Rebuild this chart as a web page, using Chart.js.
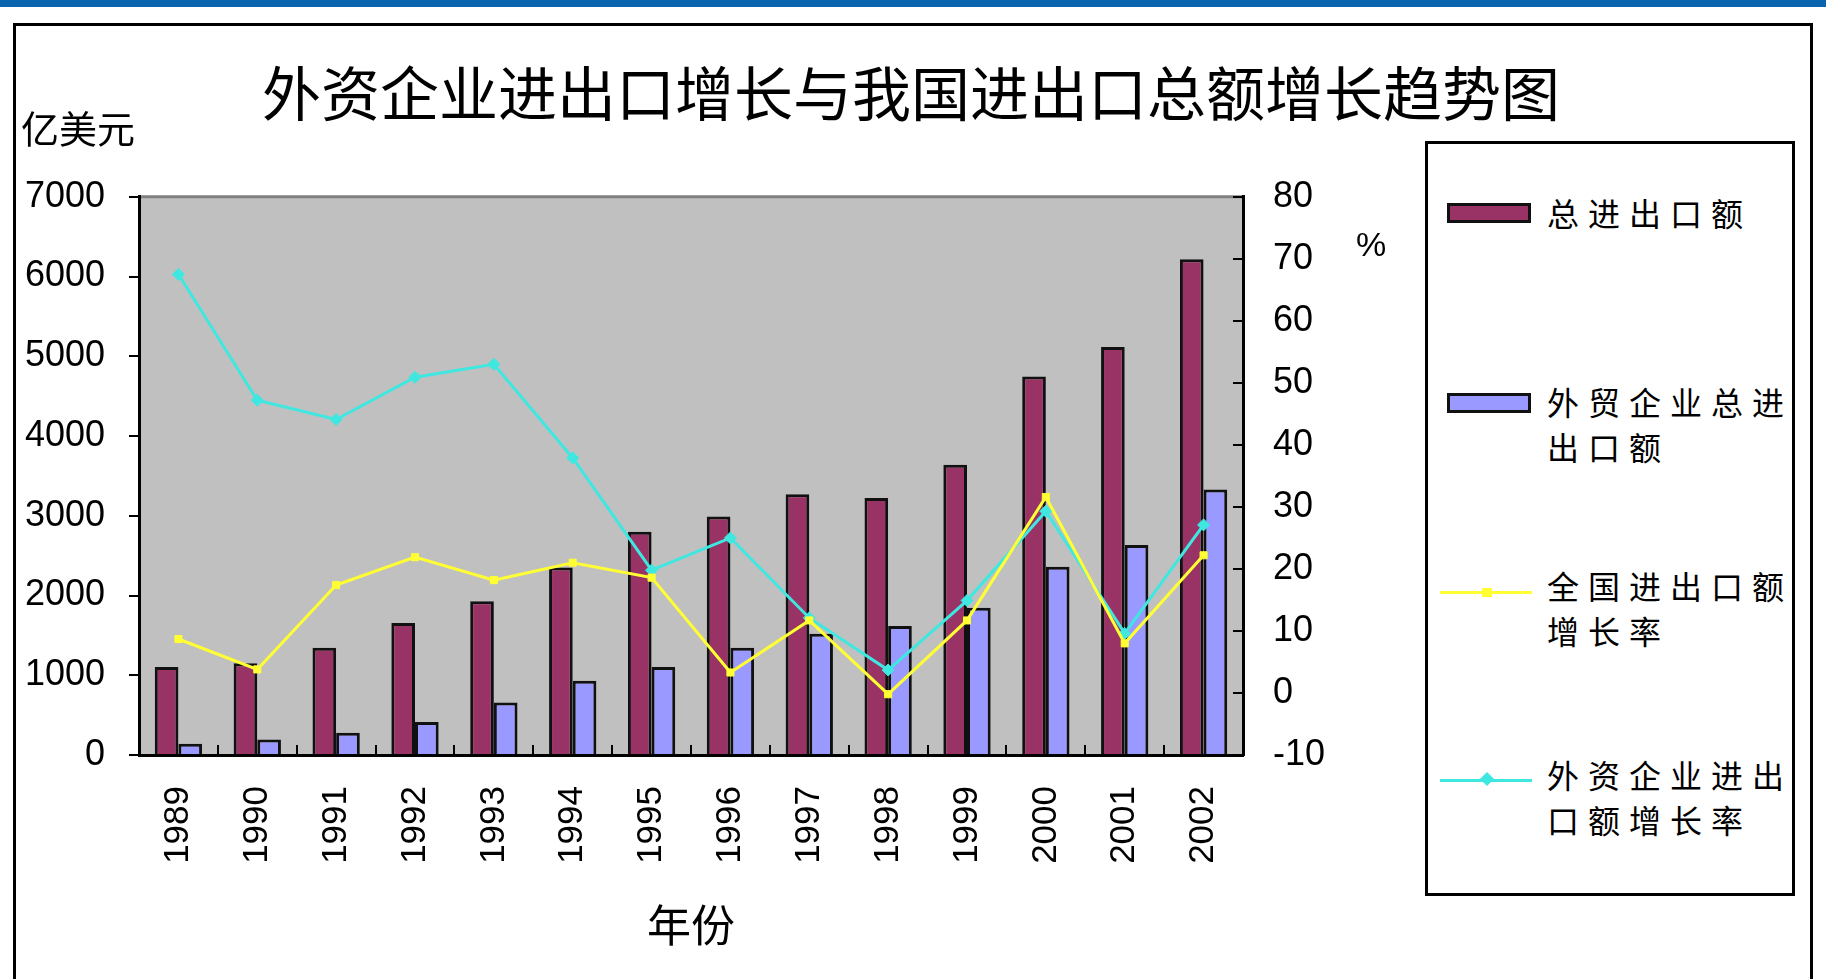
<!DOCTYPE html>
<html>
<head>
<meta charset="utf-8">
<script src="https://cdn.jsdelivr.net/npm/chart.js@4"></script>
<style>
    html, body { margin: 0; padding: 0; background: #fff; }
    body { width: 1826px; height: 979px; position: relative; overflow: hidden; }
    .top-band { position: absolute; left: 0; top: 0; width: 1826px; height: 7px; background: #0b64b0; }
    .frame { position: absolute; left: 13px; top: 23px; width: 1800px; height: 1000px; border: 3px solid #000; box-sizing: border-box; }
    #chart { position: absolute; left: 0; top: 0; }
    .legend { position: absolute; left: 1425px; top: 141px; width: 370px; height: 755px; border: 3px solid #000; box-sizing: border-box; background: #fff; }
    .item { position: absolute; left: 0; width: 100%; }
    .txt { position: absolute; left: 119px; top: 0; font-family: "Noto Sans CJK SC", sans-serif; font-size: 32px; line-height: 45px; letter-spacing: 9px; color: #000; white-space: nowrap; }
    .box { position: absolute; left: 19px; width: 84px; height: 20px; border: 3px solid #111; box-sizing: border-box; }
    .ln { position: absolute; left: 12px; width: 92px; height: 3px; }
    .mk { position: absolute; }
</style>
</head>
<body>
<div class="top-band"></div>
<div class="frame"></div>
<canvas id="chart" width="1826" height="979"></canvas>

<!-- legenda, ca in original -->
<div class="legend">
    <div class="item" style="top:46px">
        <div class="box" style="top:13px; background:#993366"></div>
        <div class="txt">总进出口额</div>
    </div>
    <div class="item" style="top:235px">
        <div class="box" style="top:14px; background:#9999ff"></div>
        <div class="txt">外贸企业总进<br>出口额</div>
    </div>
    <div class="item" style="top:419px">
        <div class="ln" style="top:28px; background:#ffff33"></div>
        <div class="mk" style="left:54px; top:25px; width:10px; height:9px; background:#ffff33"></div>
        <div class="txt">全国进出口额<br>增长率</div>
    </div>
    <div class="item" style="top:608px">
        <div class="ln" style="top:27px; background:#3ee8e0"></div>
        <div class="mk" style="left:54px; top:22px; width:10px; height:10px; background:#3ee8e0; transform:rotate(45deg)"></div>
        <div class="txt">外资企业进出<br>口额增长率</div>
    </div>
</div>

<script>
// ani
const years = ['1989', '1990', '1991', '1992', '1993', '1994', '1995', '1996', '1997', '1998', '1999', '2000', '2001', '2002'];

// 亿美元 (axa stanga)
const totalTrade = [1104, 1152, 1344, 1655, 1928, 2350, 2801, 2990, 3271, 3223, 3640, 4747, 5115, 6217];
const fieTrade = [141, 194, 280, 414, 659, 932, 1104, 1344, 1521, 1618, 1847, 2360, 2633, 3328];

// % (axa dreapta)
const nationalGrowth = [8.7, 3.8, 17.4, 21.9, 18.2, 21.0, 18.6, 3.3, 11.7, -0.2, 11.7, 31.6, 8.0, 22.2];
const fieGrowth = [67.5, 47.2, 44.1, 50.9, 53.0, 37.9, 19.8, 25.0, 12.1, 3.7, 14.9, 29.3, 9.6, 27.1];

// tick-uri
const leftTicks = [0, 1000, 2000, 3000, 4000, 5000, 6000, 7000];
const rightTicks = [-10, 0, 10, 20, 30, 40, 50, 60, 70, 80];

const NUM_FONT = '"Liberation Sans", Arial, sans-serif';
const CJK_FONT = '"Noto Sans CJK SC", sans-serif';

// fundal gri al zonei de plot + linia de sus
const plotBg = {
    id: 'plotBg',
    beforeDraw(chart) {
        const { ctx, chartArea: a } = chart;
        ctx.save();
        ctx.fillStyle = '#c0c0c0';
        ctx.fillRect(a.left, a.top, a.width, a.height);
        ctx.strokeStyle = '#808080';
        ctx.lineWidth = 3;
        ctx.beginPath();
        ctx.moveTo(a.left, a.top);
        ctx.lineTo(a.right, a.top);
        ctx.stroke();
        ctx.restore();
    }
};

// unitatile axelor (亿美元 si %)
const unitLabels = {
    id: 'unitLabels',
    afterDraw(chart) {
        const { ctx, chartArea: a } = chart;
        ctx.save();
        ctx.fillStyle = '#000';
        ctx.textAlign = 'center';
        ctx.textBaseline = 'middle';
        ctx.font = '38px ' + CJK_FONT;
        ctx.fillText('亿美元', a.left - 61, a.top - 68);
        ctx.font = '34px ' + NUM_FONT;
        ctx.fillText('%', a.right + 128, a.top + 50);
        ctx.restore();
    }
};

const ctx = document.getElementById('chart').getContext('2d');

new Chart(ctx, {
    data: {
        labels: years,
        datasets: [
            {
                type: 'line', label: '全国进出口额增长率', data: nationalGrowth, yAxisID: 'y1', order: 0,
                borderColor: '#ffff33', backgroundColor: '#ffff33', borderWidth: 3,
                pointStyle: 'rect', pointRadius: 5, pointBorderWidth: 1, tension: 0
            },
            {
                type: 'line', label: '外资企业进出口额增长率', data: fieGrowth, yAxisID: 'y1', order: 1,
                borderColor: '#3ee8e0', backgroundColor: '#3ee8e0', borderWidth: 3,
                pointStyle: 'rectRot', pointRadius: 6, pointBorderWidth: 1, tension: 0
            },
            {
                type: 'bar', label: '总进出口额', data: totalTrade, yAxisID: 'y', order: 5,
                backgroundColor: '#993366', borderColor: '#111', borderWidth: 3,
                categoryPercentage: 0.6, barPercentage: 1.0
            },
            {
                type: 'bar', label: '外贸企业总进出口额', data: fieTrade, yAxisID: 'y', order: 6,
                backgroundColor: '#9999ff', borderColor: '#111', borderWidth: 3,
                categoryPercentage: 0.6, barPercentage: 1.0
            }
        ]
    },
    options: {
        responsive: false,
        animation: false,
        layout: { padding: { left: 14, right: 18, top: 23, bottom: 24 } },
        plugins: {
            legend: { display: false },
            tooltip: { enabled: false },
            title: {
                display: true,
                text: '外资企业进出口增长与我国进出口总额增长趋势图',
                color: '#000',
                font: { family: CJK_FONT, size: 59, weight: 'normal', lineHeight: 1.2 },
                padding: { top: 35, bottom: 68 }
            }
        },
        scales: {
            x: {
                offset: true,
                afterFit: (s) => { s.height = 200; },
                border: { display: true, color: '#000', width: 3 },
                grid: { offset: true, drawOnChartArea: false, tickLength: -10, color: '#000', lineWidth: 2 },
                ticks: {
                    autoSkip: false, minRotation: 90, maxRotation: 90, padding: 41,
                    color: '#000', font: { family: NUM_FONT, size: 35 }
                },
                title: {
                    display: true, text: '年份', color: '#000',
                    font: { family: CJK_FONT, size: 44, lineHeight: 1.2 },
                    padding: { top: 0, bottom: 3 }
                }
            },
            y: {
                position: 'left',
                min: 0, max: 7000,
                afterFit: (s) => { s.width = 125; },
                afterBuildTicks: (s) => { s.ticks = leftTicks.map(v => ({ value: v })); },
                border: { display: true, color: '#000', width: 3 },
                grid: { drawOnChartArea: false, tickLength: 10, color: '#000', lineWidth: 2 },
                ticks: { padding: 24, color: '#000', font: { family: NUM_FONT, size: 36 }, callback: (v) => String(v) }
            },
            y1: {
                position: 'right',
                min: -10, max: 80,
                afterFit: (s) => { s.width = 565; },
                afterBuildTicks: (s) => { s.ticks = rightTicks.map(v => ({ value: v })); },
                border: { display: true, color: '#000', width: 3 },
                grid: { drawOnChartArea: false, tickLength: -10, color: '#000', lineWidth: 2 },
                ticks: { padding: 40, color: '#000', font: { family: NUM_FONT, size: 36 }, callback: (v) => String(v) }
            }
        }
    },
    plugins: [plotBg, unitLabels]
});
</script>
</body>
</html>
